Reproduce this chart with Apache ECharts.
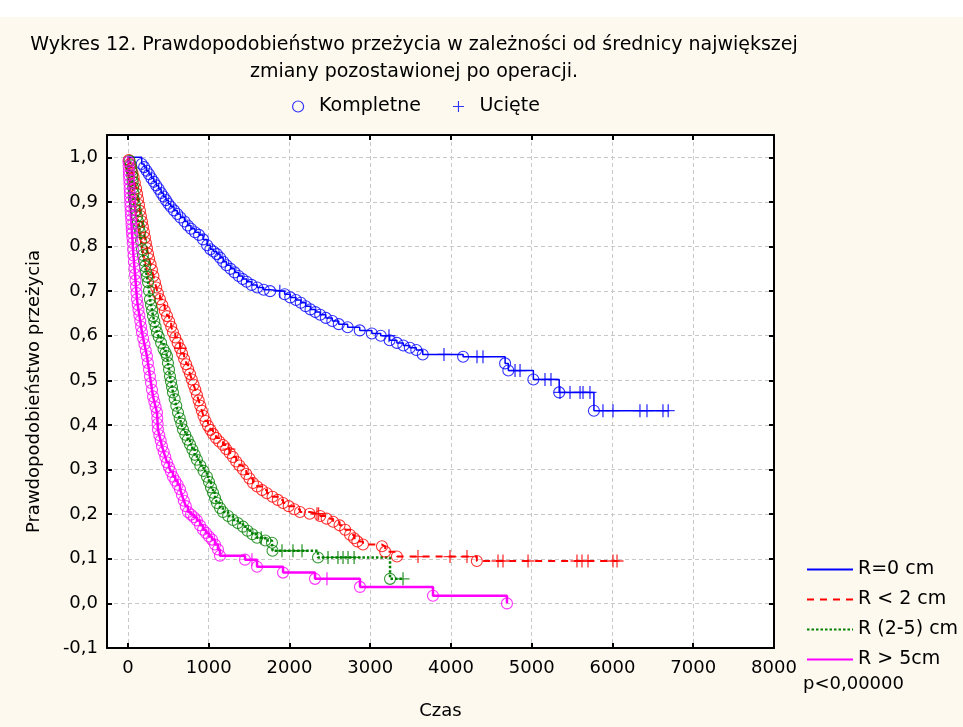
<!DOCTYPE html>
<html>
<head>
<meta charset="utf-8">
<script src="https://cdn.jsdelivr.net/npm/echarts@6/dist/echarts.min.js"></script>
<style>
html, body { margin: 0; padding: 0; background: #fdf9ee; }
#main { width: 963px; height: 727px; }
</style>
</head>
<body>
<div id="main"></div>
<script>
// tick values
var xTicks = [0, 1000, 2000, 3000, 4000, 5000, 6000, 7000, 8000];
var yTicks = [-0.1, 0, 0.1, 0.2, 0.3, 0.4, 0.5, 0.6, 0.7, 0.8, 0.9, 1.0];

var groupNames = ['R=0 cm', 'R < 2 cm', 'R (2-5) cm', 'R > 5cm'];
var groupColors = ['#0000ff', '#ff0000', '#008000', '#ff00ff'];

// events (time, survival after event) -> circles
var eventsR0 = [
    [170, 0.985], [200, 0.978], [230, 0.970], [260, 0.962], [290, 0.953], [320, 0.945], [350, 0.937],
    [380, 0.929], [410, 0.920], [440, 0.912], [470, 0.904], [500, 0.896], [530, 0.889], [570, 0.881],
    [610, 0.873], [650, 0.865], [700, 0.856], [740, 0.847], [780, 0.840], [830, 0.832], [880, 0.826],
    [930, 0.816], [980, 0.803], [1020, 0.794], [1060, 0.789], [1100, 0.783], [1140, 0.775], [1180, 0.766],
    [1220, 0.758], [1270, 0.750], [1320, 0.742], [1370, 0.734], [1420, 0.727], [1470, 0.721], [1530, 0.714],
    [1600, 0.708], [1680, 0.703], [1760, 0.700], [1940, 0.693], [2010, 0.686], [2080, 0.680], [2140, 0.674],
    [2200, 0.666], [2260, 0.659], [2320, 0.653], [2380, 0.647], [2450, 0.640], [2530, 0.633], [2610, 0.626],
    [2720, 0.619], [2870, 0.612], [3020, 0.605], [3130, 0.600], [3240, 0.590], [3330, 0.584], [3410, 0.578],
    [3490, 0.573], [3570, 0.568], [3650, 0.558], [4150, 0.553], [4670, 0.538], [4710, 0.522], [5020, 0.502],
    [5340, 0.473], [5770, 0.432]
];
var eventsR2 = [
    [10, 0.994], [25, 0.985], [40, 0.975], [55, 0.965], [70, 0.955], [85, 0.943], [100, 0.930], [112, 0.918],
    [124, 0.906], [136, 0.893], [148, 0.880], [160, 0.868], [173, 0.856], [185, 0.844], [198, 0.832],
    [210, 0.820], [222, 0.808], [235, 0.796], [248, 0.784], [262, 0.772], [280, 0.760], [297, 0.748],
    [315, 0.734], [334, 0.720], [350, 0.708], [370, 0.695], [396, 0.682], [425, 0.669], [455, 0.656],
    [483, 0.644], [510, 0.632], [535, 0.620], [557, 0.608], [585, 0.596], [615, 0.584], [645, 0.572],
    [670, 0.560], [695, 0.548], [720, 0.536], [745, 0.525], [768, 0.514], [790, 0.502], [812, 0.490],
    [834, 0.479], [854, 0.467], [875, 0.455], [895, 0.443], [915, 0.432], [935, 0.420], [960, 0.409],
    [990, 0.398], [1020, 0.389], [1053, 0.380], [1090, 0.371], [1130, 0.363], [1176, 0.355], [1215, 0.346],
    [1260, 0.337], [1300, 0.328], [1340, 0.318], [1380, 0.309], [1424, 0.300], [1465, 0.290], [1505, 0.280],
    [1548, 0.270], [1600, 0.262], [1660, 0.254], [1721, 0.247], [1790, 0.239], [1855, 0.232], [1920, 0.225],
    [1990, 0.218], [2060, 0.211], [2130, 0.205], [2250, 0.201], [2380, 0.196], [2460, 0.190], [2540, 0.183],
    [2620, 0.175], [2690, 0.165], [2750, 0.154], [2800, 0.146], [2840, 0.139], [2910, 0.132], [3145, 0.128],
    [3185, 0.116], [3330, 0.105], [4320, 0.095]
];
var eventsR25 = [
    [20, 0.992], [35, 0.982], [45, 0.970], [52, 0.958], [58, 0.945], [63, 0.932], [68, 0.919], [73, 0.906],
    [85, 0.894], [98, 0.881], [111, 0.868], [124, 0.856], [137, 0.844], [149, 0.832], [161, 0.813],
    [173, 0.794], [185, 0.781], [198, 0.768], [210, 0.756], [223, 0.744], [236, 0.732], [248, 0.720],
    [260, 0.701], [272, 0.682], [285, 0.669], [298, 0.657], [310, 0.644], [326, 0.632], [342, 0.620],
    [359, 0.608], [380, 0.598], [410, 0.584], [440, 0.570], [465, 0.562], [483, 0.554], [495, 0.539],
    [508, 0.524], [520, 0.509], [533, 0.497], [545, 0.485], [557, 0.473], [578, 0.458], [598, 0.443],
    [619, 0.428], [640, 0.415], [660, 0.403], [681, 0.390], [710, 0.378], [740, 0.367], [768, 0.356],
    [797, 0.345], [826, 0.333], [854, 0.322], [895, 0.309], [936, 0.297], [978, 0.284], [1003, 0.272],
    [1028, 0.260], [1053, 0.248], [1078, 0.236], [1102, 0.225], [1140, 0.214], [1176, 0.205], [1240, 0.196],
    [1300, 0.187], [1360, 0.180], [1424, 0.172], [1480, 0.163], [1540, 0.155], [1598, 0.147], [1700, 0.141],
    [1783, 0.136], [1790, 0.118], [2353, 0.103], [3245, 0.055]
];
var eventsR5 = [
    [5, 0.990], [8, 0.980], [10, 0.970], [12, 0.960], [15, 0.950], [18, 0.940], [20, 0.930], [22, 0.920],
    [25, 0.910], [28, 0.900], [30, 0.890], [33, 0.880], [36, 0.870], [40, 0.860], [43, 0.850], [46, 0.840],
    [50, 0.830], [54, 0.820], [58, 0.808], [62, 0.794], [68, 0.780], [74, 0.766], [80, 0.752], [87, 0.738],
    [93, 0.724], [99, 0.710], [105, 0.696], [111, 0.682], [120, 0.670], [130, 0.658], [141, 0.646],
    [152, 0.633], [162, 0.620], [173, 0.608], [188, 0.594], [204, 0.581], [220, 0.567], [235, 0.554],
    [247, 0.539], [260, 0.524], [272, 0.509], [285, 0.494], [297, 0.479], [310, 0.464], [326, 0.452],
    [342, 0.440], [359, 0.428], [363, 0.415], [367, 0.402], [371, 0.390], [388, 0.377], [405, 0.365],
    [421, 0.352], [442, 0.340], [462, 0.328], [483, 0.316], [508, 0.305], [532, 0.295], [557, 0.284],
    [586, 0.275], [615, 0.266], [644, 0.256], [668, 0.243], [692, 0.230], [716, 0.218], [743, 0.205],
    [780, 0.199], [817, 0.193], [854, 0.186], [892, 0.175], [929, 0.165], [966, 0.158], [1003, 0.150],
    [1040, 0.143], [1077, 0.132], [1114, 0.121], [1139, 0.107], [1449, 0.098], [1598, 0.082], [1920, 0.069],
    [2316, 0.055], [2873, 0.037], [3777, 0.017], [4693, 0.0]
];

// censored times -> plus marks
var censR0 = [1880, 3232, 3913, 4322, 4396, 4793, 4855, 5164, 5238, 5350, 5474, 5598, 5635, 5721,
    5882, 6006, 6340, 6427, 6625, 6690];
var censR2 = [650, 1250, 2340, 2360, 3591, 3988, 4198, 4582, 4644, 4954, 5560, 5622, 5697, 6006, 6056];
var censR25 = [1650, 1907, 2043, 2155, 2477, 2600, 2663, 2725, 2800, 3406];
var censR5 = [1535, 2464];

var allEvents = [eventsR0, eventsR2, eventsR25, eventsR5];
var allCens = [censR0, censR2, censR25, censR5];
var lineTypes = ['solid', [7, 6], [2.5, 2], 'solid'];
var lineWidths = [1.5, 2, 2.5, 2.5];

var plusPath = 'path://M-0.6,-6H0.6V6H-0.6Z M-6,-0.6H6V0.6H-6Z';

function survAt(events, t) {
    var s = 1;
    for (var i = 0; i < events.length; i++) {
        if (events[i][0] <= t) s = events[i][1];
    }
    return s;
}

function stepData(events, cens) {
    var end = Math.max(events[events.length - 1][0], cens.length ? cens[cens.length - 1] : 0);
    var d = [[0, 1]].concat(events);
    d.push([end, survAt(events, end)]);
    return d;
}

var series = [];
for (var g = 0; g < 4; g++) {
    var ev = allEvents[g], ce = allCens[g];
    series.push({
        name: groupNames[g],
        type: 'line',
        step: 'end',
        symbol: 'none',
        showSymbol: false,
        lineStyle: { color: groupColors[g], width: lineWidths[g], type: lineTypes[g] },
        itemStyle: { color: groupColors[g] },
        data: stepData(ev, ce),
        z: 2
    });
    series.push({
        name: 'Kompletne',
        type: 'scatter',
        symbol: 'circle',
        symbolSize: 11,
        itemStyle: { color: 'rgba(0,0,0,0)', borderColor: groupColors[g], borderWidth: 1.1 },
        data: ev,
        z: 3
    });
    series.push({
        name: 'Ucięte',
        type: 'scatter',
        symbol: plusPath,
        symbolSize: 13,
        itemStyle: { color: groupColors[g] },
        data: ce.map(function (t) { return [t, survAt(ev, t)]; }),
        z: 3
    });
}

var chart = echarts.init(document.getElementById('main'));

var axisLineStyle = { color: '#000', width: 2 };
var fontSz = 18;
var bigSz = 19;

var option = {
    backgroundColor: '#fdf9ee',
    animation: false,
    textStyle: { fontFamily: 'DejaVu Sans', color: '#000' },
    title: {
        text: 'Wykres 12. Prawdopodobieństwo przeżycia w zależności od średnicy największej\nzmiany pozostawionej po operacji.',
        left: 409,
        top: 27,
        textAlign: 'center',
        textStyle: { fontSize: bigSz, fontWeight: 'normal', color: '#000', lineHeight: 27, fontFamily: 'DejaVu Sans' }
    },
    legend: [{
        data: [
            { name: 'Kompletne', icon: 'circle', itemStyle: { color: 'rgba(0,0,0,0)', borderColor: '#0000ff', borderWidth: 1.2 } },
            { name: 'Ucięte', icon: plusPath, itemStyle: { color: '#0000ff' } }
        ],
        left: 287,
        top: 92,
        itemWidth: 32,
        itemHeight: 11,
        itemGap: 32,
        selectedMode: false,
        textStyle: { fontSize: bigSz, color: '#000', fontFamily: 'DejaVu Sans' }
    }, {
        data: groupNames,
        orient: 'vertical',
        left: 801,
        top: 555,
        itemWidth: 46,
        itemHeight: 14,
        itemGap: 11,
        selectedMode: false,
        itemStyle: { opacity: 0 },
        textStyle: { fontSize: bigSz, color: '#000', fontFamily: 'DejaVu Sans' }
    }],
    grid: {
        left: 107,
        right: 189,
        top: 135,
        bottom: 79,
        show: true,
        backgroundColor: '#ffffff',
        borderWidth: 0
    },
    xAxis: [{
        type: 'value',
        min: -260,
        max: 8000,
        position: 'bottom',
        name: 'Czas',
        nameLocation: 'middle',
        nameGap: 54,
        nameTextStyle: { fontSize: fontSz, color: '#000' },
        axisLine: { onZero: false, lineStyle: axisLineStyle },
        axisTick: { inside: true, length: 5, customValues: xTicks, lineStyle: axisLineStyle },
        axisLabel: {
            customValues: xTicks,
            fontSize: fontSz,
            color: '#000',
            margin: 11,
            formatter: function (v) { return String(v); }
        },
        splitLine: { show: true, lineStyle: { color: '#c8c8c8', type: [4, 3], width: 1 } }
    }, {
        type: 'value',
        min: -260,
        max: 8000,
        position: 'top',
        axisLine: { onZero: false, lineStyle: axisLineStyle },
        axisTick: { inside: true, length: 5, customValues: xTicks, lineStyle: axisLineStyle },
        axisLabel: { show: false },
        splitLine: { show: false }
    }],
    yAxis: [{
        type: 'value',
        min: -0.1,
        max: 1.05,
        position: 'left',
        name: 'Prawdopodobieństwo przeżycia',
        nameLocation: 'middle',
        nameGap: 64,
        nameTextStyle: { fontSize: fontSz, color: '#000' },
        axisLine: { onZero: false, lineStyle: axisLineStyle },
        axisTick: { inside: true, length: 5, customValues: yTicks, lineStyle: axisLineStyle },
        axisLabel: {
            customValues: yTicks,
            fontSize: fontSz,
            color: '#000',
            margin: 9,
            formatter: function (v) { return v.toFixed(1).replace('.', ','); }
        },
        splitLine: { show: true, lineStyle: { color: '#c8c8c8', type: [4, 3], width: 1 } }
    }, {
        type: 'value',
        min: -0.1,
        max: 1.05,
        position: 'right',
        axisLine: { onZero: false, lineStyle: axisLineStyle },
        axisTick: { inside: true, length: 5, customValues: yTicks, lineStyle: axisLineStyle },
        axisLabel: { show: false },
        splitLine: { show: false }
    }],
    graphic: [{
        type: 'rect',
        shape: { x: 0, y: 0, width: 963, height: 17 },
        style: { fill: '#ffffff' },
        z: -1
    }, {
        type: 'text',
        left: 803,
        top: 675,
        style: { text: 'p<0,00000', fontSize: fontSz, fill: '#000', fontFamily: 'DejaVu Sans' }
    }],
    series: series
};

chart.setOption(option);
</script>
</body>
</html>
